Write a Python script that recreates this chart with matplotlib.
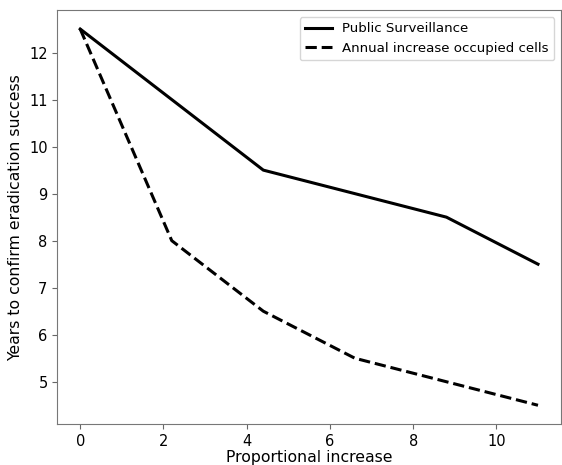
import matplotlib
matplotlib.use("Agg")
import matplotlib.pyplot as plt

x_vals = [0, 2.2, 4.4, 6.6, 8.8, 9.9, 11]
public_surv = [12.5, 11.0, 9.5, 9.0, 8.5, 8.0, 7.5]
annual_inc = [12.5, 8.0, 6.5, 5.5, 5.0, 4.75, 4.5]

fig, ax = plt.subplots(figsize=(5.62, 4.65), dpi=100)
ax.plot(x_vals, public_surv, color="black", lw=2.2, label="Public Surveillance")
ax.plot(x_vals, annual_inc, color="black", lw=2.2, ls="--",
        label="Annual increase occupied cells")
ax.set_xlabel("Proportional increase", fontsize=11.3, labelpad=1)
ax.set_ylabel("Years to confirm eradication success", fontsize=11.3)
ax.tick_params(labelsize=10.5, color="#666666")
for sp in ax.spines.values():
    sp.set_color("#777777")
ax.legend(loc="upper right", fontsize=9.6)
fig.subplots_adjust(left=0.102, right=0.998, top=0.978, bottom=0.088)
fig.savefig("out.png", dpi=100)
